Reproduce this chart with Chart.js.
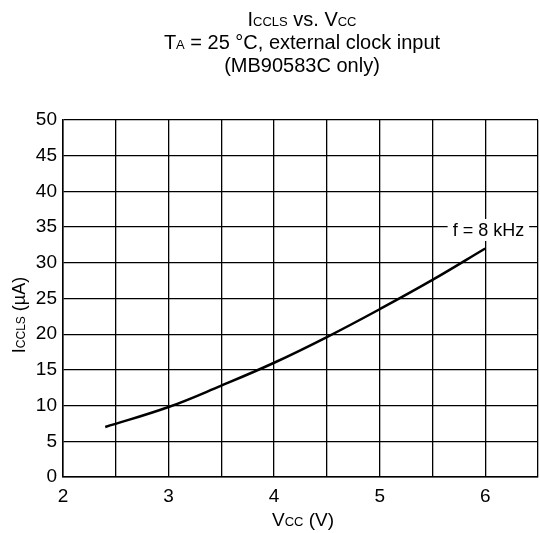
<!DOCTYPE html>
<html lang="en">
<head>
    <meta charset="UTF-8">
    <title>ICCLS vs. VCC</title>
    <script src="https://cdn.jsdelivr.net/npm/chart.js"></script>
    <style>
        body {
            margin: 0;
            background: #fff;
        }
    </style>
</head>
<body>
    <canvas id="iccls-chart" width="540" height="533"></canvas>

    <script>
        // Supply voltage (V) and current (uA)
        const vcc = [2.4, 3.0, 3.5, 4.0, 4.5, 5.0, 5.5, 6.0];
        const iccls = [7.0, 9.8, 12.8, 16.0, 19.6, 23.5, 27.6, 32.0];

        const xTickLabels = ['2', '3', '4', '5', '6'];
        const yTickLabels = ['0', '5', '10', '15', '20', '25', '30', '35', '40', '45', '50'];

        const curveLabel = 'f = 8 kHz';
        const curveLabelAt = [6.03, 34.6];

        const FONT = '"Liberation Sans", Arial, sans-serif';

        // draws a line of text made of runs with different sizes, centered on cx
        function drawRuns(ctx, runs, cx, y) {
            let total = 0;
            runs.forEach(r => {
                ctx.font = r[1] + 'px ' + FONT;
                total += ctx.measureText(r[0]).width;
            });
            let x = cx - total / 2;
            runs.forEach(r => {
                ctx.font = r[1] + 'px ' + FONT;
                ctx.fillText(r[0], x, y);
                x += ctx.measureText(r[0]).width;
            });
        }

        const textPlugin = {
            id: 'texts',
            afterDraw(chart) {
                const ctx = chart.ctx;
                const xs = chart.scales.x, ys = chart.scales.y;
                ctx.save();
                ctx.fillStyle = '#000';
                ctx.textAlign = 'left';
                ctx.textBaseline = 'alphabetic';

                // title
                const cx = 302;
                drawRuns(ctx, [['I', 20], ['CCLS', 13], [' vs. V', 20], ['CC', 13]], cx, 26);
                drawRuns(ctx, [['T', 20], ['A', 13], [' = 25 \u00b0C, external clock input', 20]], cx, 49);
                drawRuns(ctx, [['(MB90583C only)', 20]], cx, 72);

                // x axis title
                drawRuns(ctx, [['V', 19], ['CC', 13], [' (V)', 19]], 303, 526);

                // y axis title
                ctx.save();
                ctx.translate(25, 315);
                ctx.rotate(-Math.PI / 2);
                drawRuns(ctx, [['I', 18], ['CCLS', 12], [' (\u00b5A)', 18]], 0, 0);
                ctx.restore();

                // curve label with white box
                const px = xs.getPixelForValue(curveLabelAt[0]);
                const py = ys.getPixelForValue(curveLabelAt[1]);
                ctx.font = '18px ' + FONT;
                const w = ctx.measureText(curveLabel).width;
                ctx.fillStyle = '#fff';
                ctx.fillRect(px - w / 2 - 5, py - 11, w + 10, 22);
                ctx.fillStyle = '#000';
                ctx.textAlign = 'center';
                ctx.textBaseline = 'middle';
                ctx.fillText(curveLabel, px, py + 1);
                ctx.restore();
            }
        };

        const ctx = document.getElementById('iccls-chart').getContext('2d');
        new Chart(ctx, {
            type: 'line',
            data: {
                datasets: [{
                    label: curveLabel,
                    data: vcc.map((v, i) => ({ x: v, y: iccls[i] })),
                    borderColor: '#000',
                    borderWidth: 2.5,
                    pointRadius: 0,
                    tension: 0.4,
                    fill: false,
                }],
            },
            options: {
                responsive: false,
                animation: false,
                layout: {
                    padding: { top: 120, right: 2, left: 0, bottom: 0 },
                },
                plugins: {
                    legend: { display: false },
                    tooltip: { enabled: false },
                },
                scales: {
                    x: {
                        type: 'linear',
                        min: 2,
                        max: 6.5,
                        afterFit: scale => {
                            scale.height = 56;
                            scale.paddingLeft = 0;
                            scale.paddingRight = 0;
                        },
                        afterBuildTicks: scale => {
                            scale.ticks = [];
                            for (let i = 0; i <= 9; i++) scale.ticks.push({ value: 2 + i * 0.5 });
                        },
                        grid: { color: '#000', lineWidth: 1.3, drawTicks: false },
                        border: { color: '#000', width: 1.5 },
                        ticks: {
                            padding: 8,
                            color: '#000',
                            font: { family: FONT, size: 19 },
                            maxRotation: 0,
                            callback: v => {
                                const idx = xTickLabels.indexOf(String(v));
                                return idx >= 0 ? xTickLabels[idx] : '';
                            },
                        },
                    },
                    y: {
                        min: 0,
                        max: 50,
                        afterFit: scale => { scale.width = 63; },
                        afterBuildTicks: scale => {
                            scale.ticks = yTickLabels.map(t => ({ value: Number(t) }));
                        },
                        grid: { color: '#000', lineWidth: 1.3, drawTicks: false },
                        border: { color: '#000', width: 1.5 },
                        ticks: {
                            padding: 6,
                            color: '#000',
                            font: { family: FONT, size: 19 },
                            callback: v => String(v),
                        },
                    },
                },
            },
            plugins: [textPlugin],
        });
    </script>
</body>
</html>
